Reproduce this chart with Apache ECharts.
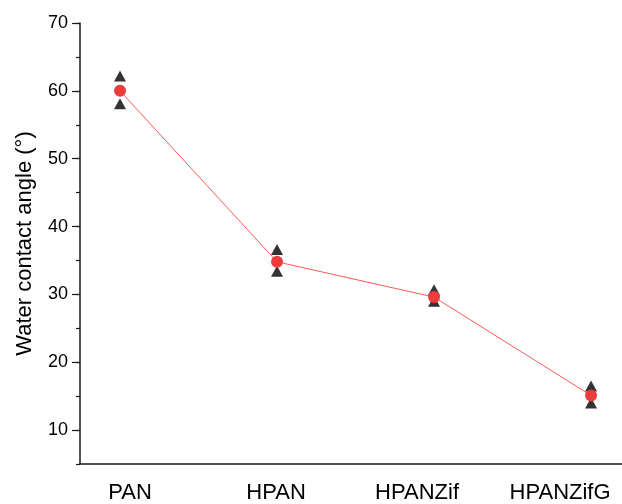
<!DOCTYPE html>
<html>
<head>
<meta charset="utf-8">
<script src="https://cdn.jsdelivr.net/npm/echarts@6/dist/echarts.min.js"></script>
<style>
  html, body { margin: 0; padding: 0; background: #fff; }
  #chart { width: 622px; height: 504px; }
</style>
</head>
<body>
<div id="chart"></div>
<script>
// Samples and measured water contact angles (degrees)
const categories = ['PAN', 'HPAN', 'HPANZif', 'HPANZifG'];
const meanAngle  = [60.0, 34.8, 29.6, 15.1];
const upperAngle = [62.2, 36.6, 30.7, 16.5];
const lowerAngle = [58.1, 33.4, 29.0, 14.0];
const yTickValues = [10, 20, 30, 40, 50, 60, 70];

// Horizontal nudges (px) for the category labels under the axis
const labelShift = [10, -1, -17, -31];

const font = 'Liberation Sans, Arial, sans-serif';
const pairs = arr => arr.map((v, i) => [i, v]);

const rich = {};
labelShift.forEach((s, i) => {
  rich['c' + i] = {
    fontSize: 22, fontFamily: font, color: '#000',
    padding: s >= 0 ? [0, 0, 0, 2 * s] : [0, -2 * s, 0, 0]
  };
});

const axisColor = '#1a1a1a';

const chart = echarts.init(document.getElementById('chart'), null, { renderer: 'canvas' });
chart.setOption({
  animation: false,
  backgroundColor: '#fff',
  grid: { left: 80, right: 0, top: 23, bottom: 38 },
  xAxis: {
    type: 'value',
    min: -0.2548,
    max: 3.197,
    axisLine: { show: true, onZero: false, lineStyle: { color: axisColor, width: 1.5 } },
    axisTick: { show: false },
    splitLine: { show: false },
    axisLabel: {
      customValues: [0, 1, 2, 3],
      margin: 18,
      formatter: v => {
        const i = Math.round(v);
        return '{c' + i + '|' + categories[i] + '}';
      },
      rich: rich
    }
  },
  yAxis: [
    {
      type: 'value',
      min: 5,
      max: 70,
      interval: 5,
      name: 'Water contact angle (°)',
      nameLocation: 'middle',
      nameGap: 44,
      nameTextStyle: { fontSize: 22, fontFamily: font, color: '#000' },
      axisLine: { show: true, onZero: false, lineStyle: { color: axisColor, width: 1.5 } },
      axisTick: { show: true, length: 4, lineStyle: { color: axisColor, width: 1.2 } },
      splitLine: { show: false },
      axisLabel: {
        customValues: yTickValues,
        margin: 12,
        fontSize: 18,
        fontFamily: font,
        color: '#000'
      }
    },
    {
      type: 'value',
      min: 5,
      max: 70,
      position: 'left',
      axisLine: { show: false, onZero: false },
      axisTick: { show: true, length: 8, customValues: yTickValues, lineStyle: { color: axisColor, width: 1.2 } },
      axisLabel: { show: false },
      splitLine: { show: false }
    }
  ],
  series: [
    {
      type: 'scatter',
      data: pairs(upperAngle),
      symbol: 'triangle',
      symbolSize: [12, 11],
      itemStyle: { color: '#000' },
      z: 2
    },
    {
      type: 'scatter',
      data: pairs(lowerAngle),
      symbol: 'triangle',
      symbolSize: [12, 11],
      itemStyle: { color: '#000' },
      z: 2
    },
    {
      type: 'line',
      data: pairs(meanAngle),
      symbol: 'circle',
      symbolSize: 12,
      lineStyle: { color: '#ff5a5a', width: 1 },
      itemStyle: { color: '#ee3c3c', borderWidth: 0 },
      z: 3
    }
  ]
});
</script>
</body>
</html>
